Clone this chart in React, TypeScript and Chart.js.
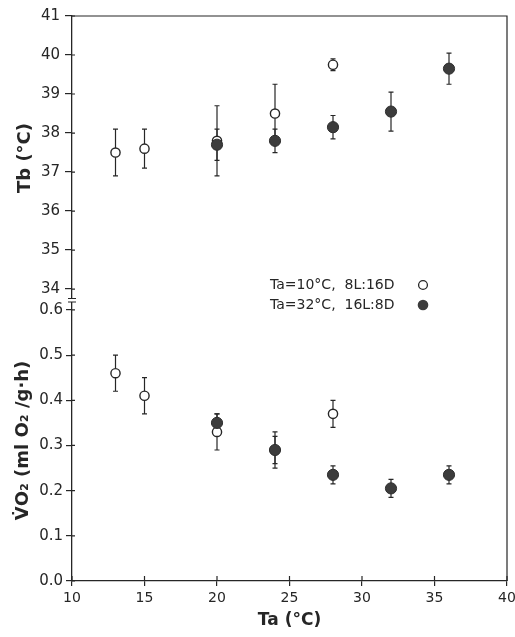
import React, { useEffect, useRef } from "react";
import { Chart, registerables } from "chart.js";

Chart.register(...registerables);

// ---- data ----
const TA_OPEN = [13, 15, 20, 24, 28];
const TA_FILLED = [20, 24, 28, 32, 36];

const TB_OPEN = [37.5, 37.6, 37.8, 38.5, 39.75];
const TB_OPEN_ERR = [0.6, 0.5, 0.9, 0.75, 0.15];
const TB_FILLED = [37.7, 37.8, 38.15, 38.55, 39.65];
const TB_FILLED_ERR = [0.4, 0.3, 0.3, 0.5, 0.4];

const VO2_OPEN = [0.46, 0.41, 0.33, 0.29, 0.37];
const VO2_OPEN_ERR = [0.04, 0.04, 0.04, 0.04, 0.03];
const VO2_FILLED = [0.35, 0.29, 0.235, 0.205, 0.235];
const VO2_FILLED_ERR = [0.02, 0.03, 0.02, 0.02, 0.02];

const X_TICKS = [10, 15, 20, 25, 30, 35, 40];
const TB_TICKS = [34, 35, 36, 37, 38, 39, 40, 41];
const VO2_TICKS = [0, 0.1, 0.2, 0.3, 0.4, 0.5, 0.6];

const LEGEND_OPEN = "Ta=10°C,  8L:16D";
const LEGEND_FILLED = "Ta=32°C,  16L:8D";
const X_TITLE = "Ta (°C)";
const TB_TITLE = "Tb (°C)";
const VO2_TITLE = "V̇O₂ (ml O₂ /g·h)";

const INK = "#262626";
const FILL = "#3c3c3c";
const FONT = "'DejaVu Sans', 'Liberation Sans', Arial, sans-serif";

const pts = (xs: number[], ys: number[]) => xs.map((x, i) => ({ x, y: ys[i] }));

const openStyle = {
  pointStyle: "circle",
  pointRadius: 4.6,
  pointBackgroundColor: "#ffffff",
  pointBorderColor: INK,
  pointBorderWidth: 1.4,
  showLine: false,
  order: 1,
};
const filledStyle = {
  pointStyle: "circle",
  pointRadius: 5.6,
  pointBackgroundColor: FILL,
  pointBorderColor: "#2e2e2e",
  pointBorderWidth: 1,
  showLine: false,
  order: 0,
};

const errorBarPlugin = {
  id: "errorBars",
  beforeDatasetsDraw(chart: any) {
    const ctx = chart.ctx;
    const xs = chart.scales.x;
    ctx.save();
    ctx.strokeStyle = INK;
    ctx.lineWidth = 1.2;
    chart.data.datasets.forEach((ds: any) => {
      const ys = chart.scales[ds.yAxisID];
      (ds.data as any[]).forEach((p, j) => {
        const e = ds.errors[j];
        const px = xs.getPixelForValue(p.x);
        const top = ys.getPixelForValue(p.y + e);
        const bot = ys.getPixelForValue(p.y - e);
        ctx.beginPath();
        ctx.moveTo(px, top);
        ctx.lineTo(px, bot);
        ctx.moveTo(px - 2.5, top);
        ctx.lineTo(px + 2.5, top);
        ctx.moveTo(px - 2.5, bot);
        ctx.lineTo(px + 2.5, bot);
        ctx.stroke();
      });
    });
    ctx.restore();
  },
};

const framePlugin = {
  id: "frame",
  afterDraw(chart: any) {
    const ctx = chart.ctx;
    const { left, right, top, bottom } = chart.chartArea;
    ctx.save();
    ctx.strokeStyle = INK;
    ctx.lineWidth = 1.2;
    // top and right frame lines
    ctx.beginPath();
    ctx.moveTo(left, top);
    ctx.lineTo(right, top);
    ctx.lineTo(right, bottom);
    ctx.stroke();
    // inward ticks
    ctx.beginPath();
    const xs = chart.scales.x;
    X_TICKS.forEach((v) => {
      const px = xs.getPixelForValue(v);
      ctx.moveTo(px, bottom);
      ctx.lineTo(px, bottom - 5);
    });
    const yTb = chart.scales.yTb;
    TB_TICKS.forEach((v) => {
      const py = yTb.getPixelForValue(v);
      ctx.moveTo(left, py);
      ctx.lineTo(left + 3, py);
    });
    const yVo = chart.scales.yVo;
    VO2_TICKS.forEach((v) => {
      const py = yVo.getPixelForValue(v);
      ctx.moveTo(left, py);
      ctx.lineTo(left + 3, py);
    });
    ctx.stroke();
    // axis break marks
    const brk = yTb.bottom;
    ctx.fillStyle = "#ffffff";
    ctx.fillRect(left - 2, brk - 1, 4, 3);
    ctx.beginPath();
    ctx.moveTo(left - 4, brk - 1.5);
    ctx.lineTo(left + 4, brk - 1.5);
    ctx.moveTo(left - 4, brk + 2);
    ctx.lineTo(left + 4, brk + 2);
    ctx.stroke();
    // legend
    ctx.fillStyle = INK;
    ctx.font = `14px ${FONT}`;
    ctx.textBaseline = "middle";
    ctx.textAlign = "left";
    ctx.fillText(LEGEND_OPEN, 270, 285);
    ctx.fillText(LEGEND_FILLED, 270, 305);
    ctx.beginPath();
    ctx.arc(423, 285, 4.4, 0, Math.PI * 2);
    ctx.fillStyle = "#ffffff";
    ctx.fill();
    ctx.lineWidth = 1.3;
    ctx.stroke();
    ctx.beginPath();
    ctx.arc(423, 305, 5.3, 0, Math.PI * 2);
    ctx.fillStyle = FILL;
    ctx.fill();
    ctx.restore();
  },
};

export default function App() {
  const ref = useRef<HTMLCanvasElement | null>(null);

  useEffect(() => {
    if (!ref.current) return;
    const tickFont = { family: FONT, size: 15 };
    const titleFont = { family: FONT, size: 18, weight: "bold" as const };
    const chart = new Chart(ref.current, {
      type: "scatter",
      data: {
        datasets: [
          { label: "Tb open", data: pts(TA_OPEN, TB_OPEN), errors: TB_OPEN_ERR, yAxisID: "yTb", ...openStyle } as any,
          { label: "Tb filled", data: pts(TA_FILLED, TB_FILLED), errors: TB_FILLED_ERR, yAxisID: "yTb", ...filledStyle } as any,
          { label: "VO2 open", data: pts(TA_OPEN, VO2_OPEN), errors: VO2_OPEN_ERR, yAxisID: "yVo", ...openStyle } as any,
          { label: "VO2 filled", data: pts(TA_FILLED, VO2_FILLED), errors: VO2_FILLED_ERR, yAxisID: "yVo", ...filledStyle } as any,
        ],
      },
      options: {
        animation: false,
        responsive: false,
        events: [],
        layout: { padding: { top: 16, right: 8, left: 0, bottom: 0 } },
        plugins: {
          legend: { display: false },
          tooltip: { enabled: false },
        },
        scales: {
          x: {
            type: "linear",
            min: 10,
            max: 40,
            afterBuildTicks: (s: any) => {
              s.ticks = X_TICKS.map((value) => ({ value }));
            },
            afterFit: (s: any) => {
              s.height = 56;
              s.paddingLeft = 0;
              s.paddingRight = 0;
            },
            ticks: { font: { family: FONT, size: 14 }, color: INK, padding: 4, maxRotation: 0 },
            grid: { drawOnChartArea: false, drawTicks: true, tickLength: 5, color: INK, lineWidth: 1.2 },
            border: { display: true, color: INK, width: 1.3 },
            title: { display: true, text: X_TITLE, font: { family: FONT, size: 17, weight: "bold" }, color: INK, padding: { top: 0, bottom: 6 } },
          },
          yVo: {
            type: "linear",
            position: "left",
            stack: "panels",
            stackWeight: 281,
            min: 0,
            max: 0.622,
            afterBuildTicks: (s: any) => {
              s.ticks = VO2_TICKS.map((value) => ({ value }));
            },
            afterFit: (s: any) => {
              s.width = 72;
              s.paddingTop = 0;
              s.paddingBottom = 0;
            },
            ticks: { font: tickFont, color: INK, padding: 3, callback: (v: any) => Number(v).toFixed(1) },
            grid: { drawOnChartArea: false, drawTicks: true, tickLength: 6, color: INK, lineWidth: 1.2 },
            border: { display: true, color: INK, width: 1.3 },
            title: { display: true, text: VO2_TITLE, font: titleFont, color: INK, padding: { top: 13, bottom: 0 } },
          },
          yTb: {
            type: "linear",
            position: "left",
            stack: "panels",
            stackWeight: 284,
            min: 33.72,
            max: 41,
            afterBuildTicks: (s: any) => {
              s.ticks = TB_TICKS.map((value) => ({ value }));
            },
            afterFit: (s: any) => {
              s.width = 72;
              s.paddingTop = 0;
              s.paddingBottom = 0;
            },
            ticks: { font: tickFont, color: INK, padding: 5, callback: (v: any) => String(Math.round(Number(v))) },
            grid: { drawOnChartArea: false, drawTicks: true, tickLength: 7, color: INK, lineWidth: 1.2 },
            border: { display: true, color: INK, width: 1.3 },
            title: { display: true, text: TB_TITLE, font: titleFont, color: INK, padding: { top: 15, bottom: 0 } },
          },
        } as any,
      },
      plugins: [errorBarPlugin, framePlugin],
    });
    return () => chart.destroy();
  }, []);

  return (
    <div style={{ position: "fixed", left: 0, top: 0, width: 515, height: 637, background: "#ffffff" }}>
      <canvas ref={ref} width={515} height={637} style={{ display: "block" }} />
    </div>
  );
}
